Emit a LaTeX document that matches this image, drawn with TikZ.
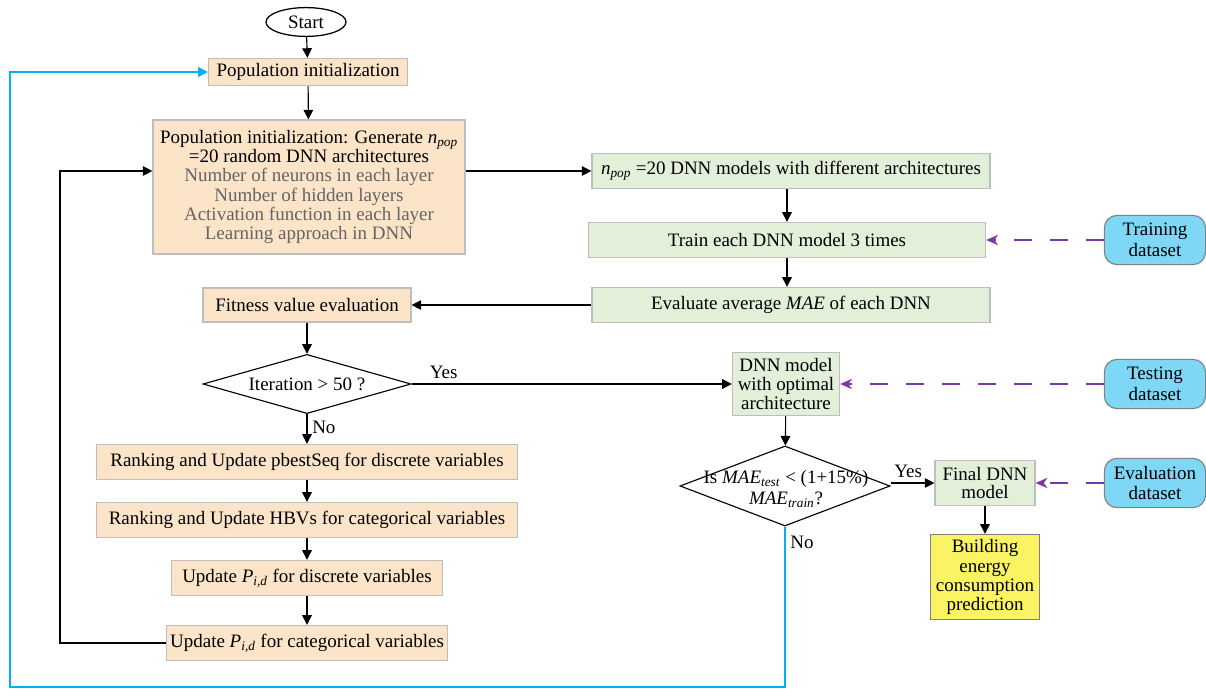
\documentclass[tikz,border=0pt]{standalone}
\usepackage{fontspec}
\setmainfont{Liberation Serif}
\usepackage{xcolor}
\usetikzlibrary{arrows.meta,positioning,shapes.geometric}
\definecolor{peach}{RGB}{252,228,200}
\definecolor{sage}{RGB}{226,239,217}
\definecolor{lemon}{RGB}{250,243,100}
\definecolor{skyfill}{RGB}{125,215,245}
\definecolor{loopblue}{RGB}{0,176,240}
\definecolor{dataviolet}{RGB}{125,55,165}
\definecolor{boxgray}{RGB}{190,190,190}
\definecolor{textgray}{RGB}{100,100,100}
\newcommand{\sbs}[1]{\textsubscript{\textit{#1}}}

\begin{document}
\begin{tikzpicture}[
  x=0.025cm, y=-0.025cm,
  term/.style={draw, ellipse, line width=0.9pt, minimum width=2cm, minimum height=0.72cm, inner sep=0pt, font=\fontsize{13.5}{14}\selectfont},
  proc/.style={draw=boxgray, line width=0.8pt, fill=peach, align=center, inner sep=0pt, font=\fontsize{13.5}{13.6}\selectfont},
  model/.style={draw=boxgray, line width=0.8pt, fill=sage, align=center, inner sep=0pt, font=\fontsize{13.5}{13.3}\selectfont},
  result/.style={draw=gray, line width=0.8pt, fill=lemon, align=center, inner sep=0pt, font=\fontsize{13.5}{13.6}\selectfont},
  dataset/.style={draw=gray, line width=0.8pt, fill=skyfill, rounded corners=9pt, align=center, minimum width=2.53cm, minimum height=1.23cm, inner sep=0pt, font=\fontsize{13.5}{14.5}\selectfont},
  decision/.style={draw, diamond, line width=0.8pt, inner sep=0pt},
  lab/.style={font=\fontsize{13.5}{14.5}\selectfont, align=center},
  arrow/.style={-{Triangle[length=2.4mm, width=2.4mm]}, line width=0.8pt},
  dasharrow/.style={-{Stealth[length=3mm, width=2.6mm]}, dataviolet, line width=0.8pt, dash pattern=on 0.45cm off 0.45cm},
  loop/.style={-{Triangle[length=2.4mm, width=2.4mm]}, loopblue, line width=0.9pt}
]
\useasboundingbox (0,0) rectangle (1206,689);

% main column
\node[term] (start) at (306,22) {Start};
\node[proc, minimum width=4.98cm, minimum height=0.68cm] (popinit) at (308,72) {Population initialization};
\node[proc, minimum width=7.8cm, minimum height=3.35cm] (generate) at (309,187)
  {Population initialization: Generate \textit{n}\sbs{pop}\\=20 random DNN architectures\\
   \textcolor{textgray}{Number of neurons in each layer}\\
   \textcolor{textgray}{Number of hidden layers}\\
   \textcolor{textgray}{Activation function in each layer}\\
   \textcolor{textgray}{Learning approach in DNN}};
\node[proc, minimum width=5.2cm, minimum height=0.85cm] (fitness) at (307,305) {Fitness value evaluation};
\node[decision, aspect=3.5, minimum width=5.2cm, minimum height=1.48cm, font=\fontsize{13.5}{14}\selectfont] (iter) at (307,384) {Iteration > 50 ?};
\node[proc, minimum width=10.52cm, minimum height=0.88cm] (rankdisc) at (307,462) {Ranking and Update pbestSeq for discrete variables};
\node[proc, minimum width=10.52cm, minimum height=0.88cm] (rankcat) at (307,520) {Ranking and Update HBVs for categorical variables};
\node[proc, minimum width=6.78cm, minimum height=0.88cm] (upddisc) at (307,578) {Update \textit{P}\sbs{i,d} for discrete variables};
\node[proc, minimum width=7.03cm, minimum height=0.88cm] (updcat) at (307,643) {Update \textit{P}\sbs{i,d} for categorical variables};

% DNN column
\node[model, minimum width=9.95cm, minimum height=0.88cm] (models) at (791,171) {\textit{n}\sbs{pop} =20 DNN models with different architectures};
\node[model, minimum width=9.93cm, minimum height=0.88cm] (train) at (787,240) {Train each DNN model 3 times};
\node[model, minimum width=9.95cm, minimum height=0.88cm] (evaluate) at (791,305) {Evaluate average \textit{MAE} of each DNN};
\node[model, minimum width=2.68cm, minimum height=1.58cm] (optimal) at (786,384) {DNN model\\with optimal\\architecture};
\node[decision, minimum width=5.25cm, minimum height=2cm] (check) at (785,486) {};
\node[lab] (checktxt) at (786,489) {Is \textit{MAE}\sbs{test} < (1+15\%)\\\textit{MAE}\sbs{train}?};
\node[model, minimum width=2.5cm, minimum height=1.13cm] (final) at (985,483) {Final DNN\\model};
\node[result, minimum width=2.73cm, minimum height=2.13cm] (building) at (985,577) {Building\\energy\\consumption\\prediction};

% data sources
\node[dataset] (trainset) at (1155,240) {Training\\dataset};
\node[dataset] (testset) at (1155,384) {Testing\\dataset};
\node[dataset] (evalset) at (1155,483) {Evaluation\\dataset};

\coordinate (back) at (60,171);

\draw[arrow] (start) -- (popinit);
\draw[arrow] (popinit) -- (generate);
\draw[arrow] (generate.east |- models.west) -- (models.west);
\draw[arrow] (train.north |- models.south) -- (train.north);
\draw[arrow] (train.south) -- (train.south |- evaluate.north);
\draw[arrow] (evaluate) -- (fitness);
\draw[arrow] (fitness) -- (iter);
\draw[arrow] (iter) -- node[lab, pos=0.45, right] {No} (rankdisc);
\draw[arrow] (iter.east) -- node[lab, pos=0.1, above] {Yes} (optimal.west);
\draw[arrow] (rankdisc) -- (rankcat);
\draw[arrow] (rankcat) -- (upddisc);
\draw[arrow] (upddisc) -- (updcat);
\draw[arrow] (updcat.west) -| (back) -- (generate.west |- back);
\draw[arrow] (optimal) -- (check);
\draw[arrow] (check.east |- final) -- node[lab, pos=0.4, above] {Yes} (final.west);
\draw[arrow] (final) -- (building);
\draw[loop] (check.south) -- node[lab, pos=0.1, right, text=black] {No} (785,687) -- (10,687) -- (10,72) -- (popinit.west);

\draw[dasharrow] (trainset) -- (train);
\draw[dasharrow] (testset) -- (optimal);
\draw[dasharrow] (evalset) -- (final);
\end{tikzpicture}
\end{document}
